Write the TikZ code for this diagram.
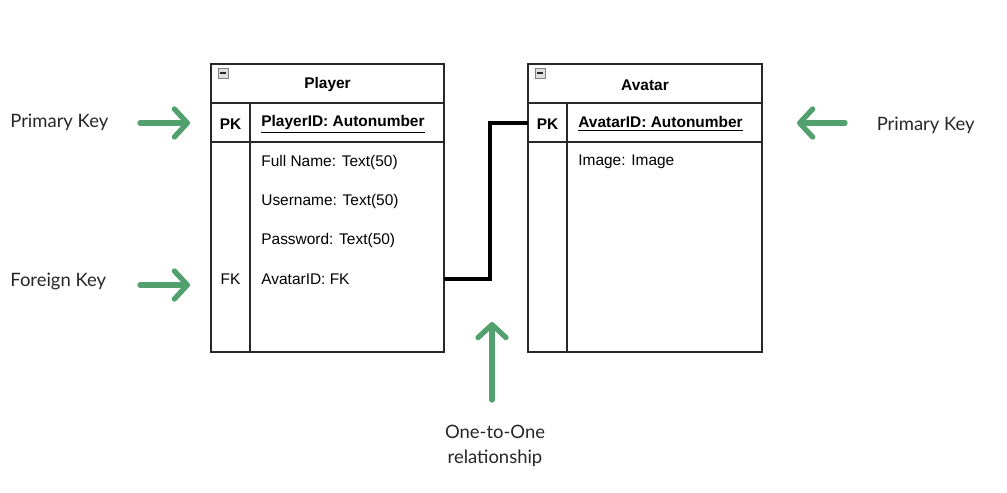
\documentclass[tikz,border=0pt]{standalone}
\usepackage{fontspec}
\setmainfont{Liberation Sans}
\newfontfamily\notefont{Lato}
\usetikzlibrary{arrows.meta, positioning, calc}

\definecolor{notegreen}{RGB}{82,160,110}
\definecolor{tableline}{RGB}{40,40,40}

\tikzset{
  tableline/.style={draw=tableline, line width=0.8pt},
  headtext/.style={font=\fontsize{8.8}{10}\selectfont\bfseries, inner sep=0},
  keytext/.style={font=\fontsize{8.8}{10}\selectfont\bfseries, inner sep=0},
  fieldtext/.style={font=\fontsize{8.8}{10}\selectfont, anchor=west, inner sep=0},
  keyfield/.style={fieldtext, font=\fontsize{8.8}{10}\selectfont\bfseries},
  notetext/.style={font=\notefont\fontsize{10.5}{14}\selectfont, text=black!85, inner sep=0, align=center},
  notearrow/.style={draw=notegreen, line width=3pt, line cap=round, line join=round,
    -{Straight Barb[length=2.6mm, width=5.6mm, line cap=round, line join=round]}},
  relation/.style={draw=black, line width=1.8pt},
  minusbox/.style={draw=gray, fill=gray!25, line width=0.4pt}
}

\begin{document}
\begin{tikzpicture}[x=0.02cm, y=-0.02cm]
  \useasboundingbox (0,0) rectangle (1007,493);

  % Player table
  \draw[tableline] (211,64) rectangle (444,352);
  \draw[tableline] (211,103) -- (444,103);
  \draw[tableline] (211,142) -- (444,142);
  \draw[tableline] (250,103) -- (250,352);
  \draw[minusbox] (218,68) rectangle ++(10,10);
  \draw[gray!30!black, line width=0.6pt] (220,73) -- (226,73);
  \node[headtext] (player-head) at (327.5,85) {Player};
  \node[keytext] (player-pk) at (230.5,124) {PK};
  \node[keyfield] (player-id) at (261,124) {\underline{PlayerID: Autonumber}};
  \node[fieldtext] (player-name) at (261,162) {Full Name: Text(50)};
  \node[fieldtext] (player-user) at (261,201) {Username: Text(50)};
  \node[fieldtext] (player-pass) at (261,240) {Password: Text(50)};
  \node[fieldtext] (player-avatar) at (261,279) {AvatarID: FK};
  \node[font=\fontsize{8.8}{10}\selectfont, inner sep=0] (player-fk) at (230.5,279) {FK};

  % Avatar table
  \draw[tableline] (528,64) rectangle (762,352);
  \draw[tableline] (528,103) -- (762,103);
  \draw[tableline] (528,142) -- (762,142);
  \draw[tableline] (567,103) -- (567,352);
  \draw[minusbox] (535,68) rectangle ++(10,10);
  \draw[gray!30!black, line width=0.6pt] (537,73) -- (543,73);
  \node[headtext] (avatar-head) at (645,85) {Avatar};
  \node[keytext] (avatar-pk) at (547.5,124) {PK};
  \node[keyfield] (avatar-id) at (578,124) {\underline{AvatarID: Autonumber}};
  \node[fieldtext] (avatar-image) at (578,162) {Image: Image};

  % One-to-one link
  \coordinate (player-edge) at (444,279);
  \coordinate (avatar-edge) at (528,123);
  \draw[relation] (player-edge) -- ++(46,0) coordinate (link-bend) |- (avatar-edge);

  % Notes
  \node[notetext, anchor=west] (note-pk-left) at (10,122) {Primary Key};
  \node[notetext, anchor=west] (note-fk) at (10,281) {Foreign Key};
  \node[notetext, anchor=east] (note-pk-right) at (975,125) {Primary Key};
  \node[notetext, anchor=north] (note-rel) at (495,425) {One-to-One\\relationship};

  \draw[notearrow] (140,123) -- (190,123);
  \draw[notearrow] (140,285) -- (190,285);
  \draw[notearrow] (845,123) -- (797,123);
  \draw[notearrow] ($(note-rel.north)+(-3,-25)$) -- ($(link-bend)+(2,43)$);
\end{tikzpicture}
\end{document}
